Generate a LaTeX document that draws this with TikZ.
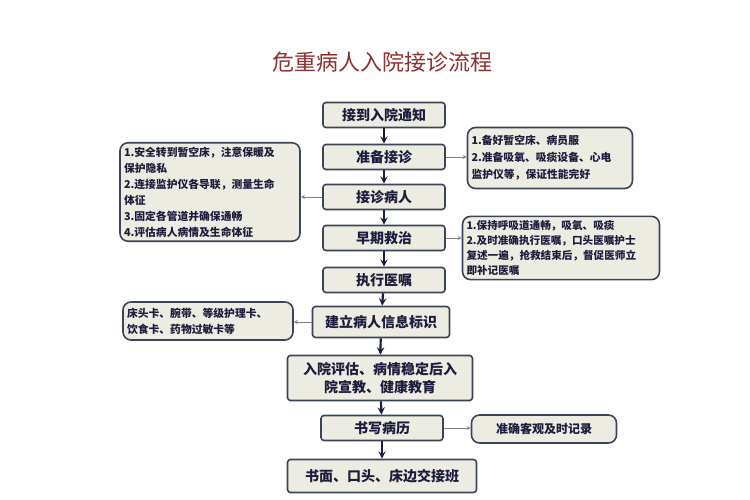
\documentclass[tikz,border=0pt]{standalone}
\usepackage{fontspec}
\newfontfamily\cjk{Noto Sans CJK SC}
\definecolor{boxfill}{HTML}{ECECE2}
\definecolor{boxline}{HTML}{3A4656}
\definecolor{txt}{HTML}{1C1C3C}
\definecolor{titlered}{HTML}{8E2F2F}
\begin{document}
\begin{tikzpicture}[x=1pt,y=-1pt,line width=0.75pt,
  stepbox/.style={draw=boxline,line width=1.6pt,fill=boxfill,rounded corners=3pt,
    minimum height=25pt,inner sep=2pt,text=txt,font=\cjk\bfseries\fontsize{14}{18}\selectfont},
  notebox/.style={draw=boxline,line width=1.6pt,fill=boxfill,rounded corners=8pt,
    inner sep=4pt,align=left,text=txt,font=\cjk\bfseries\fontsize{10.8}{16}\selectfont},
  flow/.style={->,>=stealth,line width=2.2pt,draw=txt},
  side/.style={->,>=stealth,line width=0.8pt,draw=gray}]
  \useasboundingbox (0,0) rectangle (750,500);
  % title
  \node (title) at (382,62) [text=titlered,font=\cjk\fontsize{22}{24}\selectfont]{危重病人入院接诊流程};
  % main steps
  \node (notice) at (384,115) [stepbox,minimum width=122pt]{接到入院通知};
  \node (prepare) at (384,157) [stepbox,minimum width=122pt]{准备接诊};
  \node (receive) at (384,197) [stepbox,minimum width=122pt]{接诊病人};
  \node (rescue) at (384,238) [stepbox,minimum width=122pt]{早期救治};
  \node (orders) at (384,280) [stepbox,minimum width=122pt]{执行医嘱};
  \node (label) at (381,322) [stepbox,minimum width=137pt,minimum height=31pt]{建立病人信息标识};
  \node (assess) at (380,378) [stepbox,minimum width=185pt,minimum height=45pt,align=center]{入院评估、病情稳定后入\\院宣教、健康教育};
  \node (record) at (382,428) [stepbox,minimum width=122pt]{书写病历};
  \node (handover) at (382,476) [stepbox,minimum width=189pt,minimum height=33pt]{书面、口头、床边交接班};
  % notes
  \node (receiveNote) at (210,192) [notebox,text width=172pt,minimum height=98pt]{1.安全转到暂空床，注意保暖及\\保护隐私\\2.连接监护仪各导联，测量生命\\体征\\3.固定各管道并确保通畅\\4.评估病人病情及生命体征};
  \node (prepareNote) at (550,158) [notebox,text width=157pt,minimum height=61pt,font=\cjk\bfseries\fontsize{10.8}{17}\selectfont]{1.备好暂空床、病员服\\2.准备吸氧、吸痰设备、心电\\监护仪等，保证性能完好};
  \node (rescueNote) at (561,248) [notebox,text width=189pt,minimum height=63pt,font=\cjk\bfseries\fontsize{10.6}{15}\selectfont]{1.保持呼吸道通畅，吸氧、吸痰\\2.及时准确执行医嘱，口头医嘱护士\\复述一遍，抢救结束后，督促医师立\\即补记医嘱};
  \node (labelNote) at (208,321) [notebox,text width=162pt,minimum height=38pt]{床头卡、腕带、等级护理卡、\\饮食卡、药物过敏卡等};
  \node (recordNote) at (544,429) [notebox,minimum width=145pt,minimum height=28pt,align=center,font=\cjk\bfseries\fontsize{12}{14}\selectfont]{准确客观及时记录};
  % arrows
  \draw [flow](notice)--(prepare);
  \draw [flow](prepare)--(receive);
  \draw [flow](receive)--(rescue);
  \draw [flow](rescue)--(orders);
  \draw [flow](orders)--(label);
  \draw [flow](label)--(assess);
  \draw [flow](assess)--(record);
  \draw [flow](record)--(handover);
  \draw [side](prepare.east)--(prepare.east -| prepareNote.west);
  \draw [side](receive.west)--(receive.west -| receiveNote.east);
  \draw [side](rescue.east)--(rescue.east -| rescueNote.west);
  \draw [side](label.west)--(label.west -| labelNote.east);
  \draw [side](record.east)--(record.east -| recordNote.west);
\end{tikzpicture}
\end{document}
